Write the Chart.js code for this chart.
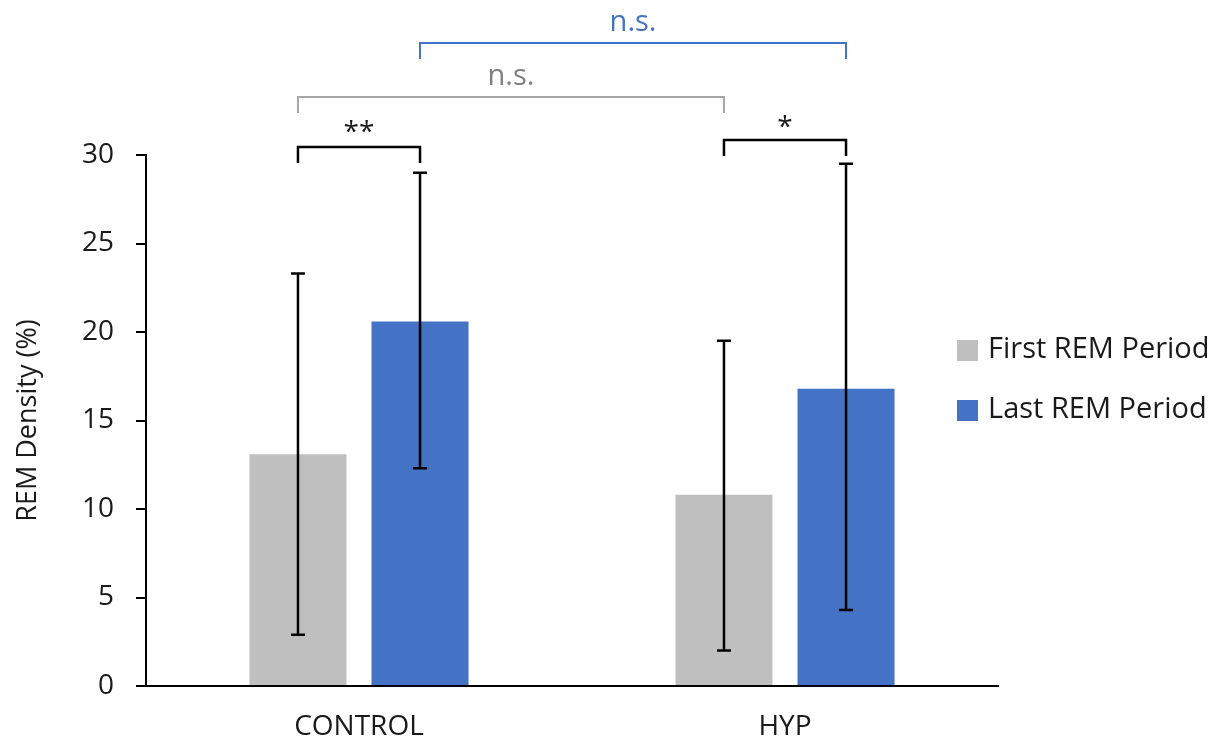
<!DOCTYPE html>
<html>
<head>
<meta charset="utf-8">
<script src="https://cdn.jsdelivr.net/npm/chart.js@4"></script>
<style>
  html, body { margin: 0; padding: 0; background: #fff; }
  .chart-box { width: 1225px; height: 744px; position: relative; }
</style>
</head>
<body>
<div class="chart-box"><canvas id="charts__rem"></canvas></div>
<script>
var groups = ['CONTROL', 'HYP'];
var seriesNames = ['First REM Period', 'Last REM Period'];
var firstRem = [13.1, 10.8];
var lastRem = [20.6, 16.8];
var firstRemLow = [2.9, 2.0];
var firstRemHigh = [23.3, 19.5];
var lastRemLow = [12.3, 4.3];
var lastRemHigh = [29.0, 29.5];
var yTicks = [0, 5, 10, 15, 20, 25, 30];
var sigLabels = ['**', '*', 'n.s.', 'n.s.'];

var FONT = "'Open Sans', 'Noto Sans', sans-serif";
var GRAY = '#bfbfbf';
var BLUE = '#4472c4';
var INK = '#1a1a1a';

document.addEventListener('DOMContentLoaded', function () {

  // error bars (black whiskers centred on each bar)
  var errorBars = {
    id: 'errorBars',
    afterDatasetsDraw: function (chart) {
      var ctx = chart.ctx;
      var y = chart.scales.y;
      var ranges = [[firstRemLow, firstRemHigh], [lastRemLow, lastRemHigh]];
      ctx.save();
      ctx.strokeStyle = '#000';
      ctx.lineWidth = 2.5;
      ranges.forEach(function (range, d) {
        chart.getDatasetMeta(d).data.forEach(function (bar, i) {
          var top = y.getPixelForValue(range[1][i]);
          var bottom = y.getPixelForValue(range[0][i]);
          ctx.beginPath();
          ctx.moveTo(bar.x, top);
          ctx.lineTo(bar.x, bottom);
          ctx.moveTo(bar.x - 7, top);
          ctx.lineTo(bar.x + 7, top);
          ctx.moveTo(bar.x - 7, bottom);
          ctx.lineTo(bar.x + 7, bottom);
          ctx.stroke();
        });
      });
      ctx.restore();
    }
  };

  // significance brackets above the plot
  var brackets = {
    id: 'brackets',
    afterDraw: function (chart) {
      var ctx = chart.ctx;
      var top = chart.chartArea.top;
      var bx = function (d, i) { return chart.getDatasetMeta(d).data[i].x; };
      var list = [
        { a: bx(0, 0), b: bx(1, 0), y: top - 8, text: top - 22, size: 28, color: '#000', textColor: INK, label: sigLabels[0] },
        { a: bx(0, 1), b: bx(1, 1), y: top - 15, text: top - 27, size: 28, color: '#000', textColor: INK, label: sigLabels[1] },
        { a: bx(0, 0), b: bx(0, 1), y: top - 58, text: top - 78, size: 29, color: '#a6a6a6', textColor: '#7f7f7f', label: sigLabels[2] },
        { a: bx(1, 0), b: bx(1, 1), y: top - 112, text: top - 132, size: 29, color: BLUE, textColor: BLUE, label: sigLabels[3] }
      ];
      ctx.save();
      list.forEach(function (br) {
        ctx.strokeStyle = br.color;
        ctx.lineWidth = br.color === '#000' ? 2.5 : 2;
        ctx.beginPath();
        ctx.moveTo(br.a, br.y + 16);
        ctx.lineTo(br.a, br.y);
        ctx.lineTo(br.b, br.y);
        ctx.lineTo(br.b, br.y + 16);
        ctx.stroke();
        ctx.fillStyle = br.textColor;
        ctx.font = br.size + 'px ' + FONT;
        ctx.textAlign = 'center';
        ctx.textBaseline = 'middle';
        ctx.fillText(br.label, (br.a + br.b) / 2, br.text);
      });
      ctx.restore();
    }
  };

  // legend at the right
  var sideLegend = {
    id: 'sideLegend',
    afterDraw: function (chart) {
      var ctx = chart.ctx;
      var x = chart.chartArea.right - 41;
      ctx.save();
      ctx.font = '29px ' + FONT;
      ctx.textAlign = 'left';
      ctx.textBaseline = 'middle';
      chart.data.datasets.forEach(function (ds, d) {
        var cy = 350 + d * 60;
        ctx.fillStyle = ds.backgroundColor;
        ctx.fillRect(x, cy - 10, 21, 21);
        ctx.fillStyle = INK;
        ctx.fillText(ds.label, x + 31, cy);
      });
      ctx.restore();
    }
  };

  var rem = document.getElementById('charts__rem').getContext('2d');
  var charts__rem = new Chart(rem, {
    type: 'bar',
    data: {
      labels: groups,
      datasets: [{
        label: seriesNames[0],
        data: firstRem,
        backgroundColor: GRAY,
        categoryPercentage: 0.573,
        barPercentage: 0.795
      }, {
        label: seriesNames[1],
        data: lastRem,
        backgroundColor: BLUE,
        categoryPercentage: 0.573,
        barPercentage: 0.795
      }]
    },
    options: {
      responsive: true,
      maintainAspectRatio: false,
      animation: false,
      layout: { padding: { top: 155, right: 227, left: 0, bottom: 0 } },
      plugins: {
        legend: { display: false },
        tooltip: { enabled: false }
      },
      scales: {
        x: {
          grid: { display: false, drawTicks: false },
          border: { color: '#000', width: 2 },
          ticks: { color: INK, font: { family: FONT, size: 28 }, padding: 24 },
          afterFit: function (scale) { scale.height = 58; }
        },
        y: {
          min: 0,
          max: 30,
          afterBuildTicks: function (scale) {
            scale.ticks = yTicks.map(function (v) { return { value: v }; });
          },
          grid: { drawOnChartArea: false, tickLength: 10, color: '#000', lineWidth: 2 },
          border: { color: '#000', width: 2 },
          ticks: { color: INK, font: { family: FONT, size: 28 }, padding: 22 },
          title: {
            display: true,
            text: 'REM Density (%)',
            color: INK,
            font: { family: FONT, size: 27 },
            padding: { top: 12, bottom: 0 }
          },
          afterFit: function (scale) { scale.width = 146; }
        }
      }
    },
    plugins: [errorBars, brackets, sideLegend]
  });

});
</script>
</body>
</html>
